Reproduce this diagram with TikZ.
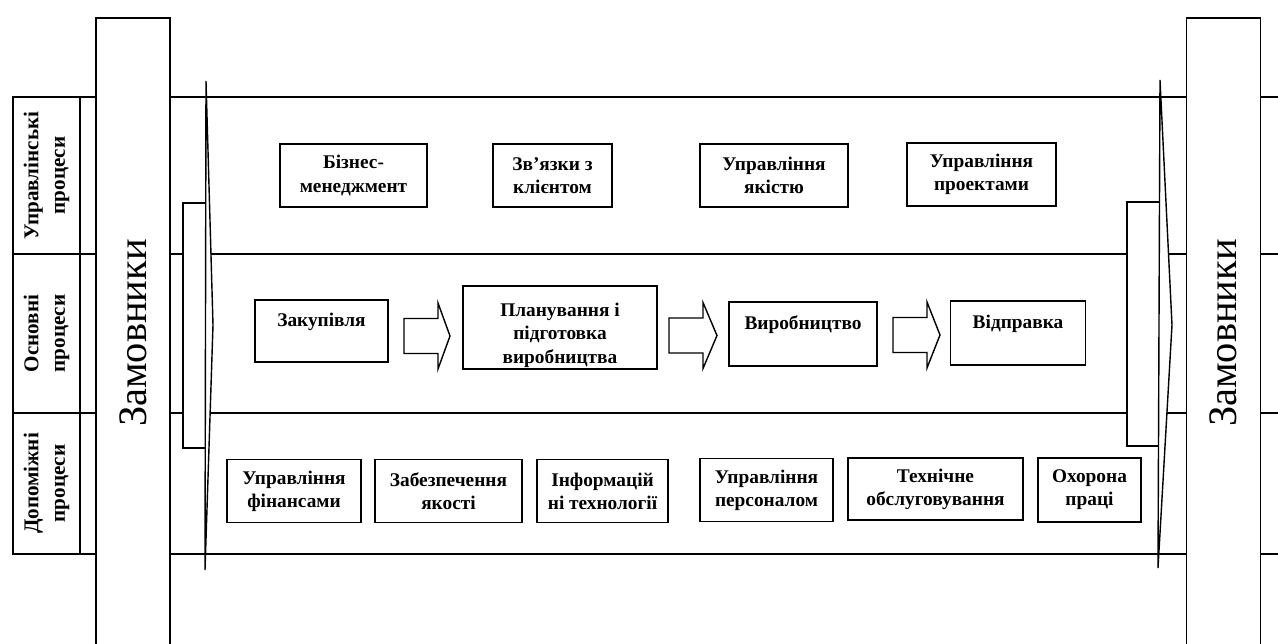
\documentclass[tikz,border=0pt]{standalone}
\usepackage{fontspec}
\setmainfont{Liberation Serif}

\begin{document}
\begin{tikzpicture}
    % Стилі для елементів схеми
    \tikzset{
        process_box/.style={
            draw=black, % рамка блоку
            thick,
            fill=white,
            align=center, % текст по центру
            font=\bfseries\fontsize{11}{13.2}\selectfont,
            inner sep=0.1em
        },
        text_up/.style={
            text depth=0.45cm % текст ближче до верхнього краю
        },
        lane_label/.style={
            draw=black,
            semithick,
            rotate=90,
            align=center,
            font=\bfseries\fontsize{12}{15}\selectfont,
            minimum height=1.34cm, % ширина колонки
            inner sep=0pt
        },
        customer_box/.style={
            draw=black,
            thick,
            fill=white,
            rotate=90,
            minimum width=12.6cm, % висота смуги
            minimum height=1.48cm,
            font=\fontsize{23}{27}\selectfont
        },
        flow_arrow/.style={
            draw=black,
            thick,
            fill=white,
            line join=miter
        },
        big_arrow/.style={
            draw=black,
            thick,
            fill=white
        },
        lane_line/.style={
            draw=black,
            semithick
        }
    }

    \useasboundingbox (0,0) rectangle (25.56,-12.88);

    % Межі смуг процесів
    \draw[lane_line] (0.26,-1.94) -- (25.56,-1.94);
    \draw[lane_line] (0.26,-5.08) -- (25.56,-5.08);
    \draw[lane_line] (0.26,-8.26) -- (25.56,-8.26);
    \draw[lane_line] (0.26,-11.08) -- (25.56,-11.08);

    % Назви смуг
    \node[lane_label, minimum width=3.14cm] (label_upr) at (0.93,-3.51) {Управлінські\\процеси};
    \node[lane_label, minimum width=3.18cm] (label_osn) at (0.93,-6.67) {Основні\\процеси};
    \node[lane_label, minimum width=2.82cm] (label_dop) at (0.93,-9.67) {Допоміжні\\процеси};

    % Замовники зліва і справа
    \node[customer_box] (customers_left) at (2.66,-6.66) {Замовники};
    \node[customer_box] (customers_right) at (24.47,-6.66) {Замовники};

    % Велика стрілка зліва
    \draw[big_arrow] (3.66,-4.06) rectangle (4.11,-8.96);
    \draw[big_arrow] (4.12,-1.62) -- (4.26,-6.50) -- (4.10,-11.40) -- cycle;

    % Велика стрілка справа
    \draw[big_arrow] (22.54,-4.04) rectangle (23.19,-8.92);
    \draw[big_arrow] (23.20,-1.60) -- (23.44,-6.50) -- (23.16,-11.36) -- cycle;

    % Управлінські процеси
    \node[process_box, minimum width=2.94cm, minimum height=1.26cm] (biz) at (7.07,-3.51) {Бізнес-\\менеджмент};
    \node[process_box, minimum width=2.38cm, minimum height=1.26cm] (client) at (11.05,-3.51) {Зв’язки з\\клієнтом};
    \node[process_box, minimum width=2.96cm, minimum height=1.26cm] (quality_mgmt) at (15.48,-3.51) {Управління\\якістю};
    \node[process_box, minimum width=2.98cm, minimum height=1.26cm] (projects) at (19.63,-3.49) {Управління\\проектами};

    % Основні процеси
    \node[process_box, text_up, minimum width=2.66cm, minimum height=1.24cm] (purchase) at (6.43,-6.62) {Закупівля};
    \node[process_box, minimum width=3.88cm, minimum height=1.62cm] (planning) at (11.20,-6.55) {\rule{0pt}{0.58cm}Планування і\\підготовка\\виробництва};
    \node[process_box, text_up, minimum width=2.96cm, minimum height=1.28cm] (production) at (16.06,-6.68) {Виробництво};
    \node[process_box, text_up, minimum width=2.70cm, minimum height=1.28cm] (shipping) at (20.36,-6.66) {Відправка};

    % Стрілки між основними процесами
    \coordinate (arrow_1) at (8.08,-6.72);
    \coordinate (arrow_2) at (13.38,-6.71);
    \coordinate (arrow_3) at (17.86,-6.70);

    \draw[flow_arrow] ([yshift=0.35cm]arrow_1) -- ++(0.68,0) -- ++(0,0.31) -- ++(0.24,-0.66) -- ++(-0.24,-0.66) -- ++(0,0.31) -- ++(-0.68,0) -- cycle;
    \draw[flow_arrow] ([yshift=0.35cm]arrow_2) -- ++(0.68,0) -- ++(0,0.31) -- ++(0.28,-0.66) -- ++(-0.28,-0.66) -- ++(0,0.31) -- ++(-0.68,0) -- cycle;
    \draw[flow_arrow] ([yshift=0.35cm]arrow_3) -- ++(0.68,0) -- ++(0,0.31) -- ++(0.26,-0.66) -- ++(-0.26,-0.66) -- ++(0,0.31) -- ++(-0.68,0) -- cycle;

    % Допоміжні процеси
    \node[process_box, minimum width=2.68cm, minimum height=1.26cm] (finance) at (5.88,-9.82) {Управління\\фінансами};
    \node[process_box, minimum width=2.94cm, minimum height=1.26cm] (quality) at (8.97,-9.82) {Забезпечення\\якості};
    \node[process_box, minimum width=2.62cm, minimum height=1.26cm] (it) at (12.05,-9.82) {Інформацій\\ні технології};
    \node[process_box, minimum width=2.66cm, minimum height=1.26cm] (staff) at (15.33,-9.80) {Управління\\персоналом};
    \node[process_box, minimum width=3.50cm, minimum height=1.24cm] (service) at (18.71,-9.78) {Технічне\\обслуговування};
    \node[process_box, minimum width=2.06cm, minimum height=1.28cm] (safety) at (21.79,-9.80) {Охорона\\праці};

\end{tikzpicture}
\end{document}
